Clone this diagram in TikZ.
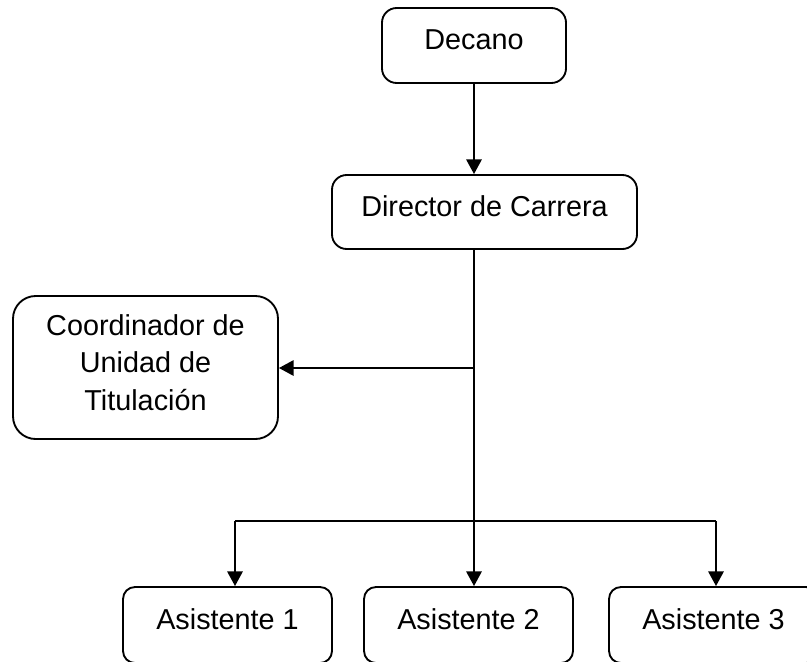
\documentclass[tikz,border=0pt]{standalone}
\usepackage{fontspec}
\setmainfont{Liberation Sans}
\usetikzlibrary{arrows.meta,positioning,calc}

\begin{document}
\begin{tikzpicture}[x=0.75pt,y=-0.75pt,
  box/.style={draw,line width=1.4pt,rounded corners=11pt,inner sep=0pt,
    font=\fontsize{21.6}{28}\selectfont},
  lbl/.style={text height=16pt,text depth=9.6pt},
  arr/.style={line width=1.5pt,-{Triangle[length=11pt,width=11.5pt]}}]
\useasboundingbox (0,0) rectangle (807,661);
\clip (0,0) rectangle (807,661);
% Boxes
\node[box,lbl,minimum width=138pt,minimum height=56.25pt] (decano) at (474,45.5) {Decano};
\node[box,lbl,minimum width=228.75pt,minimum height=55.5pt] (director) at (484.5,212) {Director de Carrera};
\node[box,rounded corners=17pt,align=center,text depth=7.5pt,minimum width=198.75pt,minimum height=107.25pt] (coord) at (145.5,367.5) {Coordinador de\\Unidad de\\Titulación};
\node[box,lbl,rounded corners=9pt,minimum width=156.75pt,minimum height=57pt] (asis1) at (227.5,625) {Asistente 1};
\node[box,lbl,rounded corners=9pt,minimum width=156.75pt,minimum height=57pt] (asis2) at (468.5,625) {Asistente 2};
\node[box,lbl,rounded corners=9pt,minimum width=156.75pt,minimum height=57pt] (asis3) at (713.5,625) {Asistente 3};
% Trunk and branches
\coordinate (top) at (474,249);
\coordinate (mid) at (474,368);
\coordinate (bl) at (235,521);
\coordinate (br) at (716,521);
\draw[arr] (decano.south -| top) -- (director.north -| top);
\draw[line width=1.5pt] (top) -- (mid);
\draw[arr] (mid) -- (mid -| coord.east);
\draw[arr] (mid) -- (top |- asis2.north);
\draw[line width=1.5pt] (bl) -- (br);
\draw[arr] (bl) -- (bl |- asis1.north);
\draw[arr] (br) -- (br |- asis3.north);
\end{tikzpicture}
\end{document}
